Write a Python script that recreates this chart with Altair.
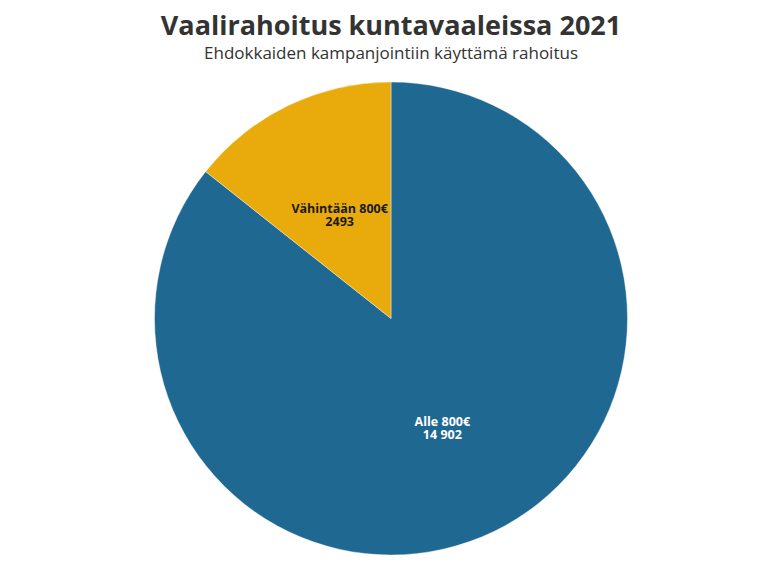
import altair as alt
import pandas as pd

categories = ["Alle 800€", "Vähintään 800€"]
values = [14902, 2493]
value_labels = ["14 902", "2493"]
slice_colors = ["#1f6892", "#e9ab0b"]
text_colors = ["#ffffff", "#1a1a1a"]

df = pd.DataFrame({
    "cat": categories,
    "value": values,
    "label": [f"{c}\n{v}" for c, v in zip(categories, value_labels)],
    "order": [0, 1],
})

base = alt.Chart(df).encode(
    theta=alt.Theta("value:Q", stack=True),
    order=alt.Order("order:Q"),
)

pie = base.mark_arc(outerRadius=236.5, stroke="#ffffff", strokeWidth=0.4).encode(
    color=alt.Color("cat:N", scale=alt.Scale(domain=categories, range=slice_colors), legend=None)
)

labels = base.mark_text(
    radius=118, dy=-3, fontWeight="bold", fontSize=12.5, lineBreak="\n",
    font="Open Sans", lineHeight=13
).encode(
    text="label:N",
    color=alt.Color("cat:N", scale=alt.Scale(domain=categories, range=text_colors), legend=None),
)

chart = (
    alt.layer(pie, labels)
    .resolve_scale(color="independent")
    .properties(
        width=766,
        height=473,
        padding={"top": 5, "left": 0, "right": 0, "bottom": 0},
        title=alt.TitleParams(
            text="Vaalirahoitus kuntavaaleissa 2021",
            subtitle="Ehdokkaiden kampanjointiin käyttämä rahoitus",
            font="Open Sans",
            fontSize=27,
            fontWeight="bold",
            color="#333333",
            subtitleFont="Open Sans",
            subtitleFontSize=17,
            subtitleColor="#333333",
            subtitlePadding=5,
            anchor="middle",
            offset=18,
        ),
    )
    .configure_view(stroke=None)
    .configure(background="#ffffff")
)

chart.save("out.html", embed_options={"renderer": "svg", "actions": False})
